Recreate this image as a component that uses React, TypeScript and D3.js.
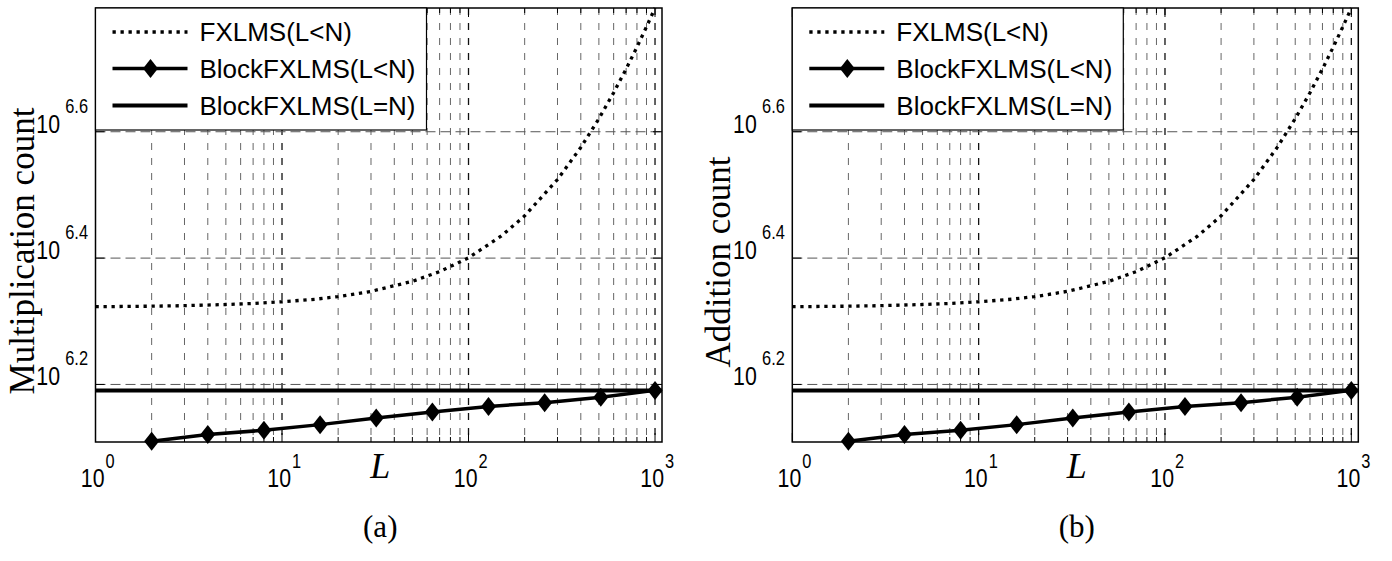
import React from 'react';
import * as d3 from 'd3';

// ---- data ----
const L_FX = [1, 2, 3, 5, 7, 10, 15, 20, 30, 50, 70, 100, 150, 200, 300, 400, 500, 600, 700, 800, 900, 1000];
const FX_MULT = [2.104e6, 2.108e6, 2.112e6, 2.121e6, 2.129e6, 2.142e6, 2.162e6, 2.183e6, 2.225e6, 2.308e6, 2.391e6, 2.515e6, 2.723e6, 2.93e6, 3.345e6, 3.76e6, 4.175e6, 4.59e6, 5.005e6, 5.42e6, 5.835e6, 6.25e6];
const FX_ADD = [2.104e6, 2.108e6, 2.112e6, 2.121e6, 2.129e6, 2.142e6, 2.162e6, 2.183e6, 2.225e6, 2.308e6, 2.391e6, 2.515e6, 2.723e6, 2.93e6, 3.345e6, 3.76e6, 4.175e6, 4.59e6, 5.005e6, 5.42e6, 5.835e6, 6.25e6];
const L_BLOCK = [2, 4, 8, 16, 32, 64, 128, 256, 512, 1000];
const BLOCK_MULT = [1.288e6, 1.321e6, 1.341e6, 1.369e6, 1.402e6, 1.433e6, 1.463e6, 1.483e6, 1.513e6, 1.551e6];
const BLOCK_ADD = [1.288e6, 1.321e6, 1.341e6, 1.369e6, 1.402e6, 1.433e6, 1.463e6, 1.483e6, 1.513e6, 1.551e6];
const BLOCKN_MULT = 1.551e6;
const BLOCKN_ADD = 1.551e6;
const X_DOMAIN = [1, 1090];
const Y_DOMAIN = [1.285e6, 6.25e6];
const X_TICK_EXP = [0, 1, 2, 3];
const Y_TICK_EXP = ['6.2', '6.4', '6.6'];
const LEGEND_LABELS = ['FXLMS(L<N)', 'BlockFXLMS(L<N)', 'BlockFXLMS(L=N)'];
const Y_LABELS = ['Multiplication count', 'Addition count'];
const SUB_LABELS = ['(a)', '(b)'];

const SANS = "'Liberation Sans', Arial, sans-serif";
const SERIF = "'Liberation Serif', 'Times New Roman', serif";
const diamond = 'M0,-9.5L7.5,0L0,9.5L-7.5,0Z';

type PanelProps = {
  left: number; top: number; width: number; height: number;
  fx: number[]; block: number[]; blockN: number; ylabel: string; sub: string; ylabelY: number;
};

function Panel({ left, top, width, height, fx, block, blockN, ylabel, sub, ylabelY }: PanelProps) {
  const x = d3.scaleLog().domain(X_DOMAIN).range([left, left + width]);
  const y = d3.scaleLog().domain(Y_DOMAIN).range([top + height, top]);
  const bottom = top + height;
  const right = left + width;

  const minor: number[] = [];
  for (let d = 1; d <= 100; d *= 10) for (let m = 2; m <= 9; m++) minor.push(m * d);
  const major = X_TICK_EXP.map((e) => Math.pow(10, e));

  const line = d3.line<[number, number]>().x((d) => x(d[0])).y((d) => y(d[1]));
  const fxPath = line(L_FX.map((l, i) => [l, fx[i]] as [number, number])) || '';
  const blockPath = line(L_BLOCK.map((l, i) => [l, block[i]] as [number, number])) || '';
  const yTicks = Y_TICK_EXP.map((e) => Math.pow(10, parseFloat(e)));

  const lgLeft = left, lgTop = top, lgW = 331, lgH = 122;
  const rows = [33, 69.5, 106.5];
  const midX = x(Math.sqrt(1000)) + 5;

  return (
    <g>
      {/* grid */}
      {minor.map((v) => (
        <line key={'gm' + v} x1={x(v)} x2={x(v)} y1={top} y2={bottom} stroke="#666" strokeWidth={1} strokeDasharray="7 8" />
      ))}
      {major.slice(1).map((v) => (
        <line key={'gM' + v} x1={x(v)} x2={x(v)} y1={top} y2={bottom} stroke="#111" strokeWidth={1.3} strokeDasharray="7 8" />
      ))}
      {yTicks.map((v) => (
        <line key={'gy' + v} x1={left} x2={right} y1={y(v)} y2={y(v)} stroke="#555" strokeWidth={1} strokeDasharray="10 5" />
      ))}
      {/* ticks */}
      {minor.map((v) => (
        <g key={'tm' + v}>
          <line x1={x(v)} x2={x(v)} y1={bottom} y2={bottom - 5} stroke="#000" />
          <line x1={x(v)} x2={x(v)} y1={top} y2={top + 5} stroke="#000" />
        </g>
      ))}
      {major.map((v) => (
        <g key={'tM' + v}>
          <line x1={x(v)} x2={x(v)} y1={bottom} y2={bottom - 9} stroke="#000" />
          <line x1={x(v)} x2={x(v)} y1={top} y2={top + 9} stroke="#000" />
        </g>
      ))}
      {yTicks.map((v) => (
        <g key={'ty' + v}>
          <line x1={left} x2={left + 9} y1={y(v)} y2={y(v)} stroke="#000" />
          <line x1={right} x2={right - 9} y1={y(v)} y2={y(v)} stroke="#000" />
        </g>
      ))}
      {/* data */}
      <line x1={left} x2={right} y1={y(blockN)} y2={y(blockN)} stroke="#000" strokeWidth={4} />
      <path d={fxPath} fill="none" stroke="#000" strokeWidth={3.3} strokeDasharray="3.3 4.7" />
      <path d={blockPath} fill="none" stroke="#000" strokeWidth={3.5} />
      {L_BLOCK.map((l, i) => (
        <path key={'mk' + l} d={diamond} transform={`translate(${x(l)},${y(block[i])})`} fill="#000" />
      ))}
      {/* axes box */}
      <rect x={left} y={top} width={width} height={height} fill="none" stroke="#000" strokeWidth={1.5} />
      {/* x tick labels: base "10" and exponent as separate texts */}
      {X_TICK_EXP.map((e) => {
        const cx = x(Math.pow(10, e));
        return (
          <g key={'xl' + e}>
            <text transform={`translate(${cx + 9},${bottom + 45}) scale(0.82,1)`} textAnchor="end" fontFamily={SANS} fontSize={26}>10</text>
            <text transform={`translate(${cx + 10},${bottom + 26}) scale(0.82,1)`} textAnchor="start" fontFamily={SANS} fontSize={20}>{e}</text>
          </g>
        );
      })}
      {/* y tick labels */}
      {Y_TICK_EXP.map((e) => {
        const cy = y(Math.pow(10, parseFloat(e)));
        return (
          <g key={'yl' + e}>
            <text transform={`translate(${left - 35.5},${cy + 1}) scale(0.82,1)`} textAnchor="end" fontFamily={SANS} fontSize={26}>10</text>
            <text transform={`translate(${left - 7.5},${cy - 19}) scale(0.82,1)`} textAnchor="end" fontFamily={SANS} fontSize={20}>{e}</text>
          </g>
        );
      })}
      {/* axis labels */}
      <text x={midX} y={bottom + 36} textAnchor="middle" fontFamily={SERIF} fontStyle="italic" fontSize={36}>L</text>
      <text transform={`translate(${left - 62},${ylabelY}) rotate(-90)`} textAnchor="middle" fontFamily={SERIF} fontSize={35}>{ylabel}</text>
      <text x={midX} y={bottom + 95} textAnchor="middle" fontFamily={SERIF} fontSize={31}>{sub}</text>
      {/* legend */}
      <rect x={lgLeft} y={lgTop} width={lgW} height={lgH} fill="#fff" stroke="#000" strokeWidth={1.2} />
      <line x1={lgLeft + 17} x2={lgLeft + 92} y1={lgTop + rows[0] - 9} y2={lgTop + rows[0] - 9} stroke="#000" strokeWidth={3.3} strokeDasharray="3.3 4.7" />
      <line x1={lgLeft + 17} x2={lgLeft + 92} y1={lgTop + rows[1] - 9} y2={lgTop + rows[1] - 9} stroke="#000" strokeWidth={3.5} />
      <path d={diamond} transform={`translate(${lgLeft + 55},${lgTop + rows[1] - 9})`} fill="#000" />
      <line x1={lgLeft + 17} x2={lgLeft + 92} y1={lgTop + rows[2] - 9} y2={lgTop + rows[2] - 9} stroke="#000" strokeWidth={4} />
      {LEGEND_LABELS.map((t, i) => (
        <text key={'lg' + i} x={lgLeft + 104} y={lgTop + rows[i]} fontFamily={SANS} fontSize={26}>{t}</text>
      ))}
    </g>
  );
}

export default function App() {
  return (
    <svg width={1392} height={561} style={{ position: 'absolute', left: 0, top: 0, background: '#fff' }}>
      <rect width={1392} height={561} fill="#fff" />
      <Panel left={95.5} top={8} width={566.5} height={434} fx={FX_MULT} block={BLOCK_MULT} blockN={BLOCKN_MULT} ylabel={Y_LABELS[0]} sub={SUB_LABELS[0]} ylabelY={251} />
      <Panel left={792.3} top={8} width={566} height={434} fx={FX_ADD} block={BLOCK_ADD} blockN={BLOCKN_ADD} ylabel={Y_LABELS[1]} sub={SUB_LABELS[1]} ylabelY={262} />
    </svg>
  );
}
